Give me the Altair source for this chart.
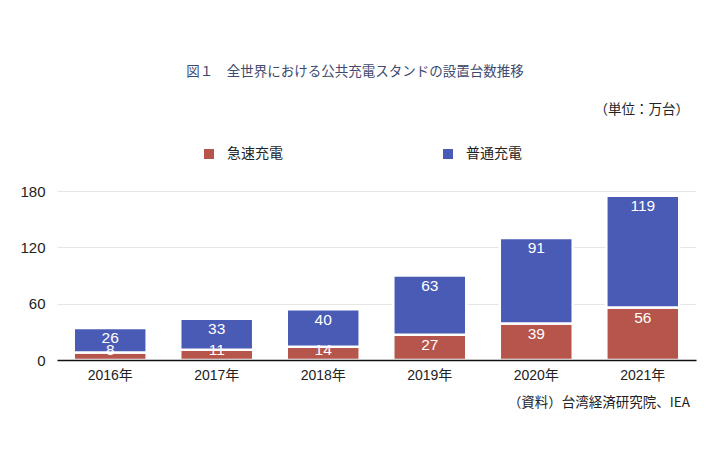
import altair as alt
import pandas as pd

years = ["2016年", "2017年", "2018年", "2019年", "2020年", "2021年"]
fast = [8, 11, 14, 27, 39, 56]
normal = [26, 33, 40, 63, 91, 119]
series = ["急速充電", "普通充電"]
colors = ["#b5554b", "#4a5bb5"]
y_ticks = [0, 60, 120, 180]

title_text = "図１　全世界における公共充電スタンドの設置台数推移"
unit_text = "（単位：万台）"
source_text = "（資料）台湾経済研究院、IEA"

rows = []
for yr, f, n in zip(years, fast, normal):
    rows.append({"year": yr, "type": series[0], "value": f, "low": 0, "high": f, "ord": 0})
    rows.append({"year": yr, "type": series[1], "value": n, "low": f, "high": f + n, "ord": 1})
df = pd.DataFrame(rows)

FONT = "Liberation Sans, Noto Sans CJK JP"
JFONT = "Noto Sans CJK JP"

x_enc = alt.X(
    "year:N", sort=years, title=None,
    scale=alt.Scale(paddingInner=0.315, paddingOuter=0.157),
    axis=alt.Axis(labelAngle=0, ticks=False, domainColor="#111111", domainWidth=1.5,
                  labelFontSize=14, labelColor="#222222", labelPadding=8, grid=False,
                  labelFont=FONT, zindex=1),
)
y_enc = alt.Y(
    "low:Q", scale=alt.Scale(domain=[0, 180]), title=None,
    axis=alt.Axis(values=y_ticks, ticks=False, domain=False, gridColor="#e6e6e6",
                  labelFontSize=15, labelPadding=12, labelColor="#222222", labelFont=FONT),
)

bars = alt.Chart(df).mark_bar(stroke="white", strokeWidth=2.5).encode(
    x=x_enc,
    y=y_enc,
    y2="high:Q",
    color=alt.Color(
        "type:N",
        scale=alt.Scale(domain=series, range=colors),
        legend=alt.Legend(
            title=None, orient="none", legendX=145, legendY=-44, direction="horizontal",
            symbolType="square", symbolSize=100, symbolStrokeWidth=0,
            labelFontSize=14, labelFont=JFONT, labelColor="#222222",
            labelOffset=11, columnPadding=158,
        ),
    ),
)

labels = alt.Chart(df).transform_calculate(
    ly="max(datum.high - 11, 11)"
).mark_text(color="white", fontSize=15.5, baseline="middle", font=FONT).encode(
    x=alt.X("year:N", sort=years),
    y=alt.Y("ly:Q"),
    text="value:Q",
)

one = pd.DataFrame({"t": [0]})


def note(text, x, y, align, size, color, font):
    return alt.Chart(one).mark_text(
        text=text, align=align, baseline="middle", fontSize=size, color=color, font=font
    ).encode(x=alt.value(x), y=alt.value(y))


title = note(title_text, 298, -119, "center", 13.5, "#404a70", JFONT)
unit = note(unit_text, 632, -81, "right", 13.5, "#222222", JFONT)
source = note(source_text, 633, 212, "right", 13.5, "#222222", JFONT)

chart = alt.layer(bars, labels, title, unit, source).properties(
    width=639, height=169,
    autosize=alt.AutoSizeParams(type="none"),
    padding={"left": 49, "top": 183, "right": 6, "bottom": 106},
).configure_view(stroke=None)

chart.save("out.html", embed_options={"renderer": "svg", "actions": False})
